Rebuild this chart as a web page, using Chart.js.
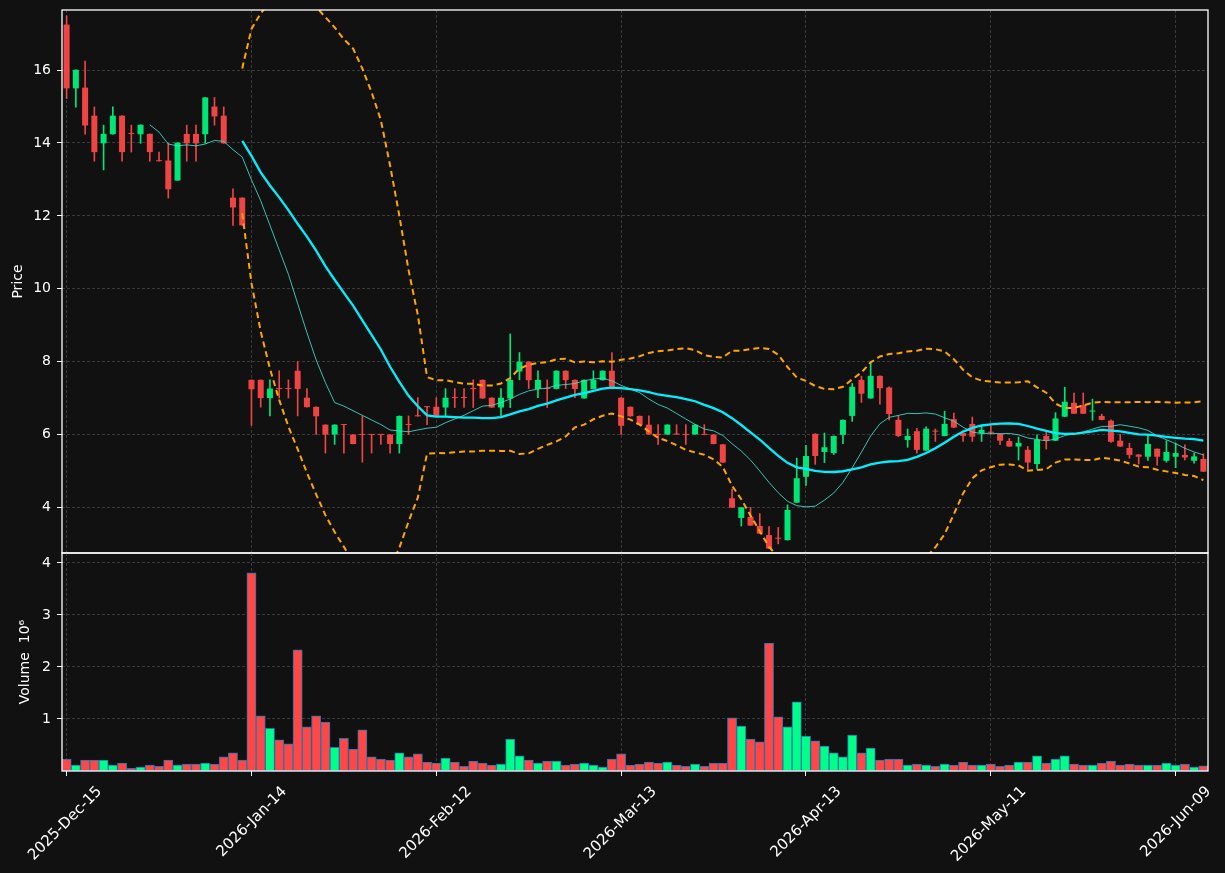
<!DOCTYPE html>
<html lang="en">
<head>
<meta charset="UTF-8">
<title>Daily candles with volume</title>
<script src="https://cdn.jsdelivr.net/npm/chart.js@4.4.1/dist/chart.umd.min.js"></script>
<style>
  body { margin: 0; background: #111111; }
  #wrap { position: relative; width: 1225px; height: 873px; overflow: hidden; }
  #price { position: absolute; left: 0; top: 0; }
  #vol { position: absolute; left: 0; top: 550px; }
</style>
</head>
<body>
<div id="wrap">
  <canvas id="price" width="1225" height="556"></canvas>
  <canvas id="vol" width="1225" height="323"></canvas>
</div>
<script>
// trading days (US holidays skipped)
const dates = [
  '2025-12-15','2025-12-16','2025-12-17','2025-12-18','2025-12-19','2025-12-22','2025-12-23','2025-12-24','2025-12-26','2025-12-29','2025-12-30','2025-12-31',
  '2026-01-02','2026-01-05','2026-01-06','2026-01-07','2026-01-08','2026-01-09','2026-01-12','2026-01-13','2026-01-14','2026-01-15','2026-01-16',
  '2026-01-20','2026-01-21','2026-01-22','2026-01-23','2026-01-26','2026-01-27','2026-01-28','2026-01-29','2026-01-30',
  '2026-02-02','2026-02-03','2026-02-04','2026-02-05','2026-02-06','2026-02-09','2026-02-10','2026-02-11','2026-02-12','2026-02-13',
  '2026-02-17','2026-02-18','2026-02-19','2026-02-20','2026-02-23','2026-02-24','2026-02-25','2026-02-26','2026-02-27',
  '2026-03-02','2026-03-03','2026-03-04','2026-03-05','2026-03-06','2026-03-09','2026-03-10','2026-03-11','2026-03-12','2026-03-13',
  '2026-03-16','2026-03-17','2026-03-18','2026-03-19','2026-03-20','2026-03-23','2026-03-24','2026-03-25','2026-03-26','2026-03-27',
  '2026-03-30','2026-03-31','2026-04-01','2026-04-02','2026-04-06','2026-04-07','2026-04-08','2026-04-09','2026-04-10',
  '2026-04-13','2026-04-14','2026-04-15','2026-04-16','2026-04-17','2026-04-20','2026-04-21','2026-04-22','2026-04-23','2026-04-24',
  '2026-04-27','2026-04-28','2026-04-29','2026-04-30','2026-05-01','2026-05-04','2026-05-05','2026-05-06','2026-05-07','2026-05-08',
  '2026-05-11','2026-05-12','2026-05-13','2026-05-14','2026-05-15','2026-05-18','2026-05-19','2026-05-20','2026-05-21','2026-05-22',
  '2026-05-26','2026-05-27','2026-05-28','2026-05-29','2026-06-01','2026-06-02','2026-06-03','2026-06-04','2026-06-05',
  '2026-06-08','2026-06-09','2026-06-10','2026-06-11','2026-06-12'
];

const opens = [17.25,15.50,15.52,14.75,13.99,14.24,14.75,14.26,14.24,14.25,
  13.51,13.52,12.97,14.25,14.25,14.24,15.00,14.75,12.50,12.50,
  7.50,7.50,7.00,7.26,7.26,7.75,7.01,6.76,6.27,6.00,
  6.27,6.00,6.00,6.00,6.00,6.00,5.74,6.27,6.51,6.76,
  6.76,6.74,7.01,7.01,7.26,7.50,7.01,6.74,6.99,7.73,
  8.00,7.25,7.26,7.25,7.75,7.50,6.99,7.25,7.49,7.75,
  7.01,6.76,6.51,6.27,6.00,6.00,6.01,6.00,6.00,6.00,
  6.00,5.73,4.25,3.71,3.74,3.49,3.24,3.15,3.10,4.13,
  4.84,6.02,5.52,5.49,5.99,6.51,7.50,6.99,7.61,7.29,
  6.40,5.85,6.09,5.56,6.09,5.96,6.42,6.04,6.29,6.04,
  6.06,6.02,5.82,5.67,5.58,5.19,5.96,5.83,6.49,6.87,
  6.81,6.63,6.51,6.38,5.83,5.63,5.45,5.39,5.61,5.28,
  5.39,5.44,5.28,5.33];
const highs = [17.49,16.01,16.25,14.99,14.49,14.99,14.75,14.49,14.50,14.25,
  13.75,13.99,14.01,14.49,14.49,15.25,15.25,14.99,12.74,12.50,
  7.50,7.50,7.50,7.75,7.50,8.00,7.26,6.76,6.27,6.27,
  6.27,6.00,6.51,6.00,6.00,6.00,6.51,6.51,7.01,6.76,
  7.01,7.26,7.26,7.26,7.50,7.50,7.01,7.26,8.76,8.25,
  8.00,7.75,7.50,7.75,7.75,7.50,7.50,7.75,7.75,8.25,
  7.01,6.76,6.51,6.51,6.27,6.27,6.27,6.27,6.27,6.27,
  6.00,5.73,4.50,4.00,4.00,3.83,3.47,3.45,4.07,5.35,
  5.70,6.02,6.04,5.96,6.40,7.40,7.60,7.98,7.61,7.31,
  6.51,6.15,6.17,6.21,6.15,6.64,6.59,6.04,6.48,6.24,
  6.24,6.02,5.89,5.93,5.67,5.99,6.07,6.60,7.30,7.14,
  7.14,6.97,6.56,6.40,6.00,5.76,5.45,5.99,5.61,5.83,
  5.76,5.72,5.49,5.47];
const lows = [15.22,14.98,14.24,13.50,13.26,14.24,13.50,13.75,13.99,13.50,
  13.50,12.49,12.97,13.50,13.50,13.99,14.49,13.99,11.74,11.74,
  6.25,6.75,6.51,7.00,7.00,6.51,6.75,6.00,5.49,5.73,
  5.49,5.74,5.24,5.49,5.73,5.49,5.49,6.00,6.50,6.27,
  6.51,6.51,6.74,6.74,6.74,6.99,6.74,6.51,6.74,7.50,
  7.26,7.01,6.74,7.25,7.26,7.01,6.99,7.25,7.49,7.25,
  6.00,6.50,6.26,6.00,5.73,6.00,6.00,5.73,6.00,5.99,
  5.74,5.23,3.99,3.49,3.50,3.28,2.87,3.00,3.10,4.13,
  4.60,5.18,5.23,5.45,5.75,6.36,6.88,6.99,6.83,6.40,
  5.94,5.65,5.49,5.56,5.81,5.96,6.19,5.81,5.81,5.81,
  6.00,5.72,5.67,5.30,5.03,5.05,5.60,5.83,6.49,6.57,
  6.57,6.39,6.40,5.78,5.67,5.35,5.19,5.29,5.16,5.24,
  5.09,5.30,5.21,4.98];
const closes = [15.50,16.01,14.48,13.75,14.25,14.75,13.75,14.25,14.50,13.75,
  13.50,12.73,14.01,13.99,13.99,15.25,14.73,13.99,12.23,11.74,
  7.24,7.00,7.26,7.25,7.25,7.25,6.75,6.50,6.00,6.27,
  6.26,5.74,5.99,5.99,5.99,5.74,6.51,6.26,6.50,6.75,
  6.51,7.01,7.00,7.00,7.25,6.99,6.74,7.01,7.50,8.00,
  7.49,7.50,7.25,7.75,7.49,7.25,7.50,7.50,7.75,7.25,
  6.24,6.50,6.26,6.00,5.99,6.27,6.00,5.99,6.27,5.99,
  5.74,5.23,3.99,4.00,3.50,3.28,2.87,3.14,3.93,4.80,
  5.41,5.41,5.65,5.96,6.40,7.31,7.12,7.61,7.27,6.56,
  5.96,5.96,5.58,6.16,6.08,6.29,6.19,5.96,5.94,6.13,
  6.05,5.83,5.67,5.77,5.23,5.86,5.83,6.44,6.90,6.57,
  6.57,6.65,6.40,5.80,5.67,5.44,5.39,5.74,5.39,5.52,
  5.49,5.37,5.40,4.98];
// volume in millions
const volumes = [0.23,0.115,0.21,0.21,0.21,0.115,0.15,0.05,0.077,0.115,
  0.09,0.21,0.115,0.135,0.135,0.15,0.135,0.27,0.35,0.21,
  3.81,1.06,0.82,0.60,0.52,2.33,0.85,1.06,0.94,0.455,
  0.63,0.42,0.79,0.27,0.23,0.21,0.35,0.27,0.33,0.17,
  0.15,0.25,0.17,0.09,0.19,0.15,0.115,0.135,0.615,0.29,
  0.21,0.15,0.19,0.19,0.115,0.135,0.15,0.115,0.077,0.23,
  0.33,0.115,0.135,0.17,0.15,0.17,0.115,0.09,0.135,0.09,
  0.15,0.15,1.02,0.865,0.615,0.56,2.46,1.04,0.85,1.33,
  0.67,0.58,0.48,0.35,0.27,0.69,0.35,0.44,0.21,0.23,
  0.23,0.115,0.135,0.115,0.09,0.135,0.115,0.17,0.115,0.115,
  0.135,0.09,0.115,0.17,0.17,0.29,0.15,0.23,0.29,0.135,
  0.115,0.115,0.15,0.19,0.115,0.135,0.115,0.115,0.115,0.15,
  0.115,0.135,0.077,0.10];

const priceTicks = [4, 6, 8, 10, 12, 14, 16];
const volTicks = [1, 2, 3, 4];
const labelEvery = 20;
const monthNames = ['Jan','Feb','Mar','Apr','May','Jun','Jul','Aug','Sep','Oct','Nov','Dec'];

// indicators derived from the closes
function rolling(src, n, fn) {
  return src.map((_, i) => i < n - 1 ? null : fn(src.slice(i - n + 1, i + 1)));
}
const mean = a => a.reduce((s, v) => s + v, 0) / a.length;
const sd = a => { const m = mean(a); return Math.sqrt(mean(a.map(v => (v - m) * (v - m)))); };
const ma10 = rolling(closes, 10, mean);
const ma20 = rolling(closes, 20, mean);
const bbUpper = rolling(closes, 20, a => mean(a) + 2 * sd(a));
const bbLower = rolling(closes, 20, a => mean(a) - 2 * sd(a));

function fmtDate(d) {
  const p = d.split('-');
  return p[0] + '-' + monthNames[+p[1] - 1] + '-' + p[2];
}

const isUp = closes.map((c, i) => c >= opens[i]);
const candleCol = isUp.map(u => u ? '#00e676' : '#ef4444');
const volCol = isUp.map(u => u ? '#00ff88' : '#ff4747');

Chart.defaults.font.family = "'DejaVu Sans', sans-serif";
Chart.defaults.font.size = 14;
Chart.defaults.color = '#ffffff';
Chart.defaults.animation = false;

const GRID = '#3a3a3a';

// white frame around each panel
const frame = {
  id: 'frame',
  afterDraw(chart) {
    const a = chart.chartArea, c = chart.ctx;
    c.save();
    c.strokeStyle = '#ffffff';
    c.lineWidth = 1.3;
    c.strokeRect(a.left, a.top, a.right - a.left, a.bottom - a.top);
    c.restore();
  }
};

function keepEvery(scale) {
  scale.ticks = scale.ticks.filter(t => t.value % labelEvery === 0);
}

const lineStyle = { type: 'line', pointRadius: 0, fill: false, tension: 0, spanGaps: false, order: 0 };

new Chart(document.getElementById('price'), {
  type: 'bar',
  data: {
    labels: dates,
    datasets: [
      { label: 'wick', data: lows.map((l, i) => [l, highs[i]]), backgroundColor: candleCol,
        barThickness: 1, grouped: false, order: 2 },
      { label: 'body', data: opens.map((o, i) => [o, closes[i]]), backgroundColor: candleCol,
        barPercentage: 0.65, categoryPercentage: 1, grouped: false, minBarLength: 1, order: 1 },
      Object.assign({ label: 'MA10', data: ma10, borderColor: 'rgba(64,224,208,0.85)', borderWidth: 1 }, lineStyle),
      Object.assign({ label: 'MA20', data: ma20, borderColor: '#00f0ff', borderWidth: 2.3 }, lineStyle),
      Object.assign({ label: 'BB up', data: bbUpper, borderColor: '#ffa500', borderWidth: 2, borderDash: [6, 4] }, lineStyle),
      Object.assign({ label: 'BB low', data: bbLower, borderColor: '#ffa500', borderWidth: 2, borderDash: [6, 4] }, lineStyle)
    ]
  },
  options: {
    responsive: false,
    layout: { padding: { top: 10, right: 17, bottom: 3, left: 0 } },
    plugins: { legend: { display: false }, tooltip: { enabled: false } },
    scales: {
      x: {
        type: 'category',
        offset: true,
        grid: { color: GRID, offset: false, drawTicks: false },
        border: { display: false, dash: [3, 2] },
        ticks: { display: false },
        afterBuildTicks: keepEvery,
        afterFit: s => { s.height = 0; s.paddingLeft = 0; s.paddingRight = 0; }
      },
      y: {
        min: 2.748, max: 17.65,
        grid: { color: GRID, tickColor: '#ffffff', tickLength: 5 },
        border: { display: false, dash: [3, 2] },
        ticks: { padding: 6 },
        title: { display: true, text: 'Price', padding: { top: 10, bottom: 0 } },
        afterBuildTicks: s => { s.ticks = priceTicks.map(v => ({ value: v })); },
        afterFit: s => { s.width = 62; s.paddingTop = 0; s.paddingBottom = 0; }
      }
    }
  },
  plugins: [frame]
});

new Chart(document.getElementById('vol'), {
  type: 'bar',
  data: {
    labels: dates,
    datasets: [{
      label: 'Volume', data: volumes, backgroundColor: volCol,
      borderColor: '#1f77b4', borderWidth: 1, borderSkipped: false,
      barPercentage: 1, categoryPercentage: 1
    }]
  },
  options: {
    responsive: false,
    layout: { padding: { top: 3, right: 17, bottom: 0, left: 0 } },
    plugins: { legend: { display: false }, tooltip: { enabled: false } },
    scales: {
      x: {
        type: 'category',
        offset: true,
        grid: { color: GRID, offset: false, tickColor: '#ffffff', tickLength: 5 },
        border: { display: false, dash: [3, 2] },
        ticks: {
          autoSkip: false, minRotation: 45, maxRotation: 45, labelOffset: 33, padding: 7,
          font: { size: 15 },
          callback: v => fmtDate(dates[v])
        },
        afterBuildTicks: keepEvery,
        afterFit: s => { s.height = 102; s.paddingLeft = 0; s.paddingRight = 0; }
      },
      y: {
        min: 0, max: 4.19,
        grid: { color: GRID, tickColor: '#ffffff', tickLength: 5 },
        border: { display: false, dash: [3, 2] },
        ticks: { padding: 6 },
        title: { display: true, text: 'Volume  10\u2076', padding: { top: 17, bottom: 0 } },
        afterBuildTicks: s => { s.ticks = volTicks.map(v => ({ value: v })); },
        afterFit: s => { s.width = 62; s.paddingTop = 0; s.paddingBottom = 0; }
      }
    }
  },
  plugins: [frame]
});
</script>
</body>
</html>
